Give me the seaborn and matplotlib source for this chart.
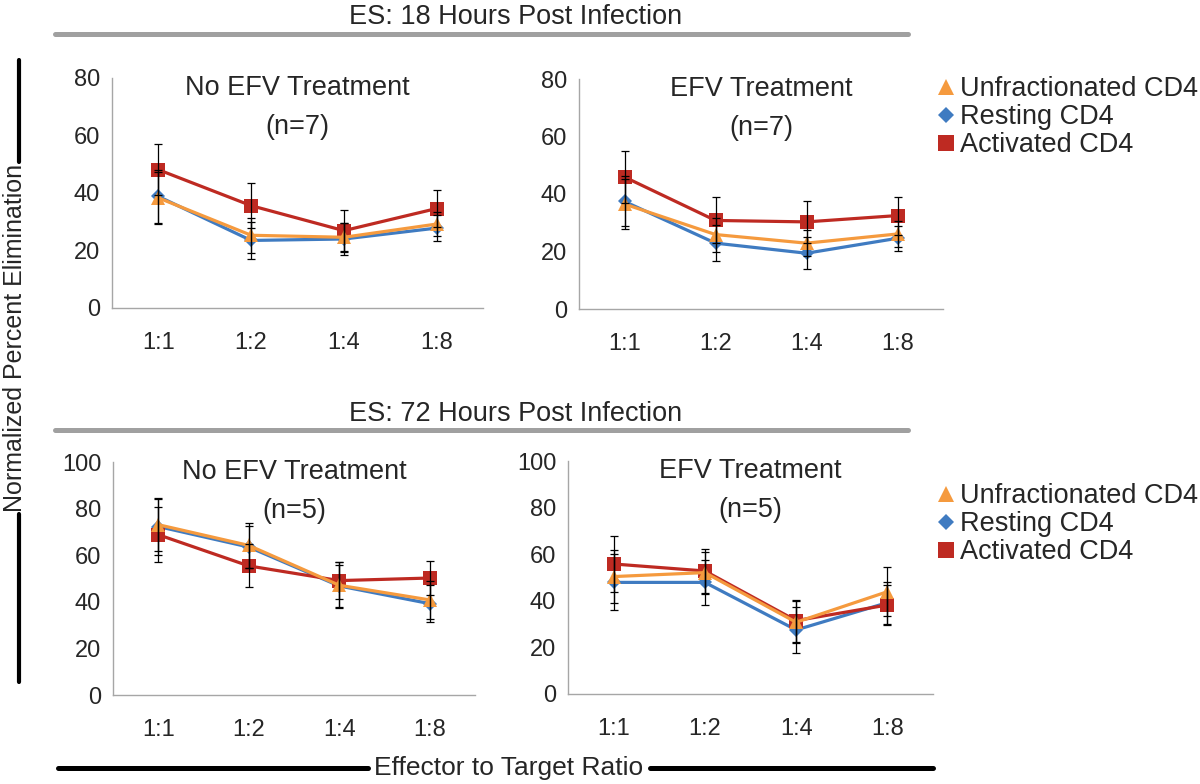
# CD4 elimination chart, 18h and 72h post infection
import numpy as np
import pandas as pd
import seaborn as sns
import matplotlib.pyplot as plt
from matplotlib.lines import Line2D
from matplotlib.ticker import FixedLocator, NullFormatter, FixedFormatter

sns.set_style("white")
plt.rcParams['font.family'] = ['Liberation Sans', 'DejaVu Sans']

# data
ratios = ['1:1', '1:2', '1:4', '1:8']
series = ['Unfractionated CD4', 'Resting CD4', 'Activated CD4']

h18_noefv_unfrac = [38.3, 25.3, 24.6, 29.2]
h18_noefv_resting = [38.8, 23.5, 24.0, 27.8]
h18_noefv_activated = [48.1, 35.6, 26.9, 34.6]
h18_noefv_unfrac_err = [9.0, 6.0, 5.0, 4.2]
h18_noefv_resting_err = [9.2, 6.3, 5.4, 4.5]
h18_noefv_activated_err = [8.8, 7.9, 7.2, 6.6]

h18_efv_unfrac = [36.5, 25.9, 22.9, 26.1]
h18_efv_resting = [37.4, 22.9, 19.4, 24.6]
h18_efv_activated = [45.9, 30.8, 30.3, 32.5]
h18_efv_unfrac_err = [8.7, 5.9, 4.6, 4.4]
h18_efv_resting_err = [8.7, 6.2, 5.5, 4.4]
h18_efv_activated_err = [8.9, 8.0, 7.3, 6.6]

h72_noefv_unfrac = [73.1, 64.2, 47.1, 40.8]
h72_noefv_resting = [72.3, 63.5, 46.8, 39.2]
h72_noefv_activated = [68.8, 55.4, 49.1, 50.2]
h72_noefv_unfrac_err = [11.4, 9.6, 9.9, 8.0]
h72_noefv_resting_err = [12.0, 9.0, 9.0, 7.9]
h72_noefv_activated_err = [11.8, 9.2, 7.9, 7.2]

h72_efv_unfrac = [50.4, 52.1, 30.8, 43.9]
h72_efv_resting = [47.9, 47.9, 27.5, 39.2]
h72_efv_activated = [55.8, 52.8, 31.5, 38.2]
h72_efv_unfrac_err = [11.5, 9.0, 9.0, 10.5]
h72_efv_resting_err = [12.0, 9.5, 10.0, 9.0]
h72_efv_activated_err = [12.0, 9.3, 9.0, 8.5]

colors = {'Unfractionated CD4': '#F59A3E', 'Resting CD4': '#3F7BC1', 'Activated CD4': '#BE2A22'}
markers = {'Unfractionated CD4': '^', 'Resting CD4': 'D', 'Activated CD4': 's'}
msizes = {'Unfractionated CD4': 10, 'Resting CD4': 7.5, 'Activated CD4': 10}
draw_order = ['Resting CD4', 'Activated CD4', 'Unfractionated CD4']

panels = [
    # (rect, ymax, title, n, values, errors)
    ([112/1200, 1-308/784, 371/1200, 230/784], 80, 'No EFV Treatment', '(n=7)',
     [h18_noefv_unfrac, h18_noefv_resting, h18_noefv_activated],
     [h18_noefv_unfrac_err, h18_noefv_resting_err, h18_noefv_activated_err]),
    ([579/1200, 1-309/784, 364/1200, 230/784], 80, 'EFV Treatment', '(n=7)',
     [h18_efv_unfrac, h18_efv_resting, h18_efv_activated],
     [h18_efv_unfrac_err, h18_efv_resting_err, h18_efv_activated_err]),
    ([113/1200, 1-695/784, 362/1200, 233/784], 100, 'No EFV Treatment', '(n=5)',
     [h72_noefv_unfrac, h72_noefv_resting, h72_noefv_activated],
     [h72_noefv_unfrac_err, h72_noefv_resting_err, h72_noefv_activated_err]),
    ([568/1200, 1-694/784, 365/1200, 233/784], 100, 'EFV Treatment', '(n=5)',
     [h72_efv_unfrac, h72_efv_resting, h72_efv_activated],
     [h72_efv_unfrac_err, h72_efv_resting_err, h72_efv_activated_err]),
]

fig = plt.figure(figsize=(12, 7.84), dpi=100)
gray = '#A6A6A6'

for rect, ymax, title, n, vals, errs in panels:
    ax = fig.add_axes(rect)
    pos = np.arange(len(ratios))
    df = pd.DataFrame({
        'pos': np.tile(pos, len(series)),
        'value': np.concatenate(vals),
        'err': np.concatenate(errs),
        'cells': np.repeat(series, len(ratios)),
    })
    for s in draw_order:
        sub = df[df['cells'] == s]
        sns.lineplot(data=sub, x='pos', y='value', color=colors[s], marker=markers[s],
                     markersize=msizes[s], markeredgewidth=0, linewidth=2.3, ax=ax,
                     legend=False, zorder=2)
    for s in draw_order:
        sub = df[df['cells'] == s]
        ax.errorbar(sub['pos'], sub['value'], yerr=sub['err'], fmt='none',
                    ecolor='black', elinewidth=0.9, capsize=2.8, capthick=0.9, zorder=3)

    ax.set_xlim(-0.5, len(ratios) - 0.5)
    ax.set_ylim(0, ymax)
    ax.set_yticks(np.arange(0, ymax + 1, 20))
    ax.xaxis.set_major_locator(FixedLocator(np.arange(-0.5, len(ratios), 1.0)))
    ax.xaxis.set_major_formatter(NullFormatter())
    ax.xaxis.set_minor_locator(FixedLocator(pos))
    ax.xaxis.set_minor_formatter(FixedFormatter(ratios))
    ax.tick_params(axis='x', which='major', length=5, width=1, color=gray, direction='out')
    ax.tick_params(axis='x', which='minor', length=0, pad=17, labelsize=17)
    ax.tick_params(axis='y', length=5, width=1, color=gray, direction='out', pad=3.5, labelsize=17)
    ax.set_xlabel('')
    ax.set_ylabel('')
    sns.despine(ax=ax)
    for sp in ['left', 'bottom']:
        ax.spines[sp].set_color(gray)
        ax.spines[sp].set_linewidth(1)

    top_px = rect[3] * 784
    ax.text(0.5, 1 - 17/top_px, title, transform=ax.transAxes, ha='center', va='baseline', fontsize=19.5)
    ax.text(0.5, 1 - 56/top_px, n, transform=ax.transAxes, ha='center', va='baseline', fontsize=19.5)

# legends next to the right panels
handles = [Line2D([], [], linestyle='none', marker=markers[s], color=colors[s],
                  markersize=msizes[s] + 1, markeredgewidth=0) for s in series]
for ytop in [1 - 76/784, 1 - 483/784]:
    fig.legend(handles, series, loc='upper left', bbox_to_anchor=(937/1200, ytop),
               frameon=False, fontsize=19.5, handlelength=0.65, handletextpad=0.2,
               labelspacing=0.08, borderaxespad=0, borderpad=0)

# section headers with gray bars
fig.text(516/1200, 1 - 24/784, 'ES: 18 Hours Post Infection', ha='center', va='baseline', fontsize=19.5)
fig.add_artist(Line2D([55/1200, 908/1200], [1 - 34/784] * 2, color='#A0A0A0', lw=3.6))
fig.text(516/1200, 1 - 421/784, 'ES: 72 Hours Post Infection', ha='center', va='baseline', fontsize=19.5)
fig.add_artist(Line2D([55/1200, 908/1200], [1 - 430/784] * 2, color='#A0A0A0', lw=3.6))

# shared axis labels with black rules
fig.text(15/1200, 1 - 338/784, 'Normalized Percent Elimination', rotation=90,
         ha='center', va='center', fontsize=18)
fig.add_artist(Line2D([19/1200] * 2, [1 - 60/784, 1 - 162/784], color='black', lw=3))
fig.add_artist(Line2D([19/1200] * 2, [1 - 514/784, 1 - 682/784], color='black', lw=3))

fig.text(509/1200, 1 - 768/784, 'Effector to Target Ratio', ha='center', va='center', fontsize=19)
fig.add_artist(Line2D([58/1200, 368/1200], [1 - 768/784] * 2, color='black', lw=3.6))
fig.add_artist(Line2D([650/1200, 933/1200], [1 - 768/784] * 2, color='black', lw=3.6))

fig.savefig('out.png', dpi=100)
